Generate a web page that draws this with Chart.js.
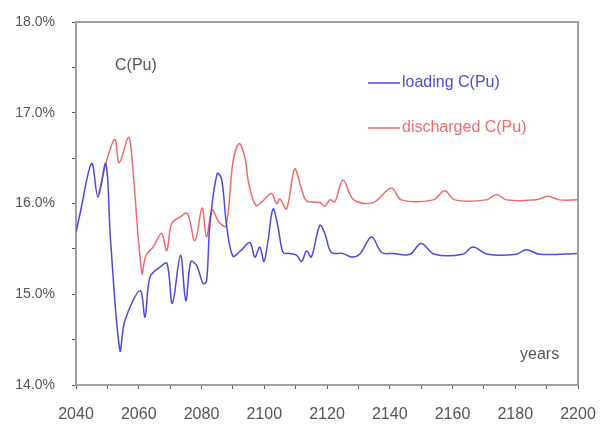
<!DOCTYPE html>
<html>
<head>
<meta charset="utf-8">
<script src="https://cdn.jsdelivr.net/npm/chart.js@4"></script>
<style>
  html, body { margin: 0; padding: 0; background: #fff; }
  #wrap { width: 600px; height: 428px; }
</style>
</head>
<body>
<div id="wrap"><canvas id="c" width="600" height="428"></canvas></div>
<script>
'use strict';

// values (year, C(Pu) in %)
const loadingYears = [2040, 2041.3, 2045, 2047, 2049.5, 2051, 2054, 2055.6, 2060.4, 2062, 2063.6, 2066.8, 2069, 2070.7,
  2073.3, 2075, 2076.6, 2078.4, 2080.5, 2081.6, 2082.7, 2085, 2086.4, 2088, 2090, 2092.5, 2095.4, 2097, 2098.6, 2099.9,
  2101.2, 2102.8, 2104.4, 2106, 2108, 2110.3, 2111.9, 2113.5, 2115, 2117.7, 2119.3, 2121.4, 2125, 2127.8, 2130.4,
  2134.2, 2137.4, 2141, 2146.4, 2150, 2154.3, 2163.3, 2166.5, 2171.3, 2180.3, 2183.5, 2187.8, 2200];
const loadingValues = [15.68, 15.89, 16.44, 16.07, 16.44, 15.6, 14.38, 14.71, 15.04, 14.75, 15.19, 15.30, 15.34, 14.90,
  15.43, 14.93, 15.36, 15.32, 15.12, 15.14, 15.78, 16.33, 16.27, 15.76, 15.42, 15.48, 15.57, 15.41, 15.52, 15.36,
  15.59, 15.94, 15.74, 15.46, 15.45, 15.43, 15.36, 15.48, 15.41, 15.76, 15.67, 15.46, 15.45, 15.41, 15.44,
  15.63, 15.46, 15.45, 15.44, 15.56, 15.44, 15.44, 15.52, 15.44, 15.44, 15.49, 15.44, 15.45];

const dischargedYears = [2047, 2049.5, 2052, 2052.6, 2053.8, 2056.7, 2057.7, 2061, 2062.3, 2064.6, 2067.3, 2068.9, 2070.5,
  2073.1, 2075.5, 2077.9, 2080.2, 2081.6, 2083.4, 2085.5, 2087.8, 2090, 2092, 2093.8, 2095, 2097.3, 2099.6, 2102.3,
  2103.9, 2105, 2107.1, 2109.7, 2111.9, 2113.5, 2117.7, 2119.3, 2120.9, 2122.5, 2125.1, 2128.5, 2134.7, 2140.5,
  2143.7, 2153.8, 2157.5, 2160.7, 2170.8, 2174, 2177.2, 2186.7, 2190.4, 2194.1, 2200];
const dischargedValues = [16.07, 16.44, 16.70, 16.70, 16.45, 16.73, 16.55, 15.23, 15.43, 15.52, 15.67, 15.48, 15.78,
  15.85, 15.89, 15.59, 15.95, 15.63, 15.93, 15.80, 15.75, 16.45, 16.66, 16.51, 16.23, 15.98, 16.03, 16.11,
  16.00, 16.05, 15.94, 16.38, 16.16, 16.03, 16.01, 15.97, 16.04, 16.02, 16.26, 16.04, 16.01, 16.17,
  16.04, 16.04, 16.14, 16.04, 16.04, 16.10, 16.04, 16.04, 16.08, 16.04, 16.04];

const xTickLabels = [2040, 2060, 2080, 2100, 2120, 2140, 2160, 2180, 2200];
const yTickLabels = [14, 15, 16, 17, 18];

const BLUE = '#4b4be3';
const RED = '#f06c6c';
const AXIS = '#a0a0a0';
const FONT = '"Liberation Sans", Arial, sans-serif';

const pts = (xs, ys) => xs.map((x, i) => ({ x, y: ys[i] }));

// frame on top/right + in-plot labels and legend
const decor = {
  id: 'decor',
  afterDraw(chart) {
    const { ctx, chartArea: a } = chart;
    ctx.save();
    ctx.strokeStyle = AXIS;
    ctx.lineWidth = 2;
    ctx.beginPath();
    ctx.moveTo(a.left, a.top);
    ctx.lineTo(a.right, a.top);
    ctx.lineTo(a.right, a.bottom);
    ctx.stroke();

    ctx.font = '16px ' + FONT;
    ctx.textBaseline = 'middle';
    ctx.fillStyle = '#555';
    ctx.fillText('C(Pu)', a.left + 39, a.top + 44);
    ctx.fillText('years', a.left + 444, a.top + 333);

    const items = [['loading C(Pu)', BLUE, 61], ['discharged C(Pu)', RED, 106]];
    items.forEach(([label, col, dy]) => {
      ctx.strokeStyle = col;
      ctx.lineWidth = 1.5;
      ctx.beginPath();
      ctx.moveTo(a.left + 292, a.top + dy);
      ctx.lineTo(a.left + 324, a.top + dy);
      ctx.stroke();
      ctx.fillStyle = col;
      ctx.fillText(label, a.left + 326, a.top + dy);
    });
    ctx.restore();
  }
};

new Chart(document.getElementById('c'), {
  type: 'line',
  data: {
    datasets: [
      { label: 'loading C(Pu)', data: pts(loadingYears, loadingValues), borderColor: BLUE, borderWidth: 1.5, pointRadius: 0, tension: 0.35 },
      { label: 'discharged C(Pu)', data: pts(dischargedYears, dischargedValues), borderColor: RED, borderWidth: 1.5, pointRadius: 0, tension: 0.35 }
    ]
  },
  options: {
    responsive: false,
    animation: false,
    layout: { padding: { top: 22, right: 22, left: 0, bottom: 0 } },
    plugins: { legend: { display: false }, tooltip: { enabled: false } },
    scales: {
      x: {
        type: 'linear', min: 2040, max: 2200,
        afterFit: s => { s.height = 43; s.paddingLeft = 0; s.paddingRight = 0; },
        border: { color: AXIS, width: 2 },
        grid: { drawOnChartArea: false, drawTicks: true, tickLength: 4, color: '#555' },
        ticks: {
          stepSize: 10, autoSkip: false, maxRotation: 0, padding: 16,
          color: '#555', font: { family: FONT, size: 16 },
          callback: v => xTickLabels.includes(v) ? String(v) : ''
        }
      },
      y: {
        min: 14, max: 18,
        afterFit: s => { s.width = 76; s.paddingTop = 0; s.paddingBottom = 0; },
        border: { color: AXIS, width: 2 },
        grid: { drawOnChartArea: false, drawTicks: true, tickLength: 4, color: '#555' },
        ticks: {
          stepSize: 0.5, autoSkip: false, padding: 17,
          color: '#555', font: { family: FONT, size: 14 },
          callback: v => yTickLabels.includes(v) ? v.toFixed(1) + '%' : ''
        }
      }
    }
  },
  plugins: [decor]
});
</script>
</body>
</html>
